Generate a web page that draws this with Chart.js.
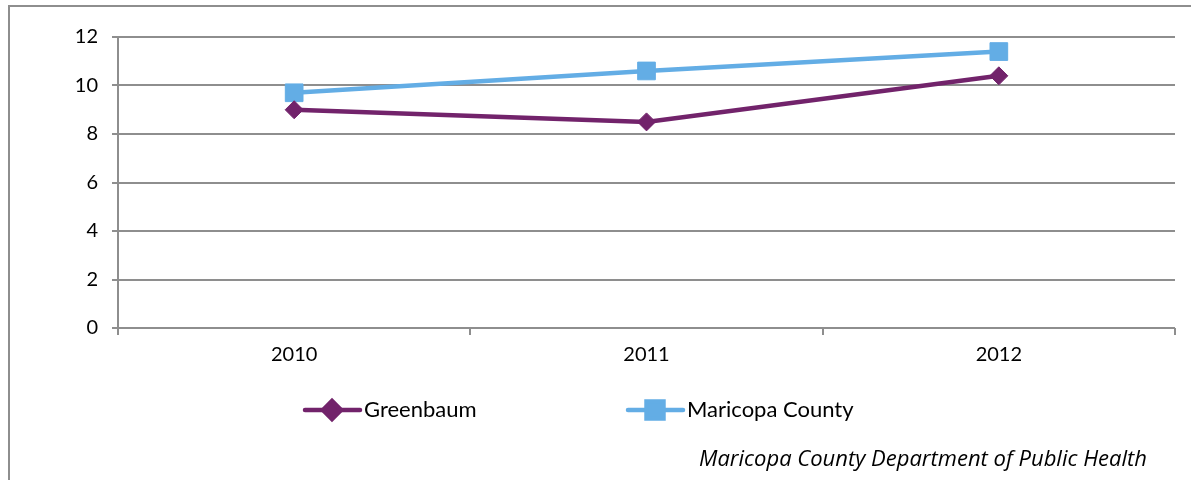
<!DOCTYPE html>
<html>
<head>
<meta charset="utf-8">
<script src="https://cdn.jsdelivr.net/npm/chart.js@4"></script>
<style>
  html, body { margin: 0; padding: 0; background: #fff; }
  #wrap { position: relative; width: 1191px; height: 480px; }
</style>
</head>
<body>
<div id="wrap"><canvas id="chart" width="1191" height="480"></canvas></div>
<script>
const years = ["2010", "2011", "2012"];
const greenbaum = [9.0, 8.5, 10.4];
const maricopa = [9.7, 10.6, 11.4];
const yTicks = [0, 2, 4, 6, 8, 10, 12];
const sourceNote = "Maricopa County Department of Public Health";

const purple = "#72236b";
const blue = "#63ade5";
const gridGrey = "#8e8e8e";
const font = "Lato, 'Open Sans', sans-serif";

// frame, legend and source line, drawn like the original sheet
const decorations = {
  id: "decorations",
  beforeDraw(chart) {
    const ctx = chart.ctx;
    ctx.save();
    ctx.strokeStyle = gridGrey;
    ctx.lineWidth = 2;
    ctx.beginPath();
    ctx.moveTo(9, 480);
    ctx.lineTo(9, 6);
    ctx.lineTo(1191, 6);
    ctx.stroke();
    ctx.restore();
  },
  afterDraw(chart) {
    const ctx = chart.ctx;
    const items = [{ x: 305 }, { x: 628 }];
    ctx.save();
    chart.data.datasets.forEach(function (ds, i) {
      const x = items[i].x;
      const y = 410;
      ctx.strokeStyle = ds.borderColor;
      ctx.lineWidth = 4.5;
      ctx.lineCap = "round";
      ctx.beginPath();
      ctx.moveTo(x, y);
      ctx.lineTo(x + 55, y);
      ctx.stroke();
      ctx.fillStyle = ds.pointBackgroundColor;
      ctx.strokeStyle = ds.pointBorderColor;
      Chart.helpers.drawPoint(ctx, {
        pointStyle: ds.pointStyle,
        radius: ds.pointStyle === "rect" ? 12 : 9,
        rotation: 0,
        borderWidth: 1,
      }, x + 27, y);
      ctx.fillStyle = "#000";
      ctx.font = "22px " + font;
      ctx.textBaseline = "middle";
      ctx.fillText(ds.label, x + 59, y);
    });
    ctx.font = "italic 22px 'Open Sans', sans-serif";
    ctx.fillStyle = "#000";
    ctx.textAlign = "right";
    ctx.textBaseline = "middle";
    ctx.fillText(sourceNote, 1147, 460);
    ctx.restore();
  },
};

new Chart(document.getElementById("chart"), {
  type: "line",
  data: {
    labels: years,
    datasets: [
      {
        label: "Greenbaum",
        data: greenbaum,
        borderColor: purple,
        borderWidth: 4.5,
        pointStyle: "rectRot",
        pointRadius: 9,
        pointBackgroundColor: purple,
        pointBorderColor: purple,
        pointBorderWidth: 1,
        tension: 0,
      },
      {
        label: "Maricopa County",
        data: maricopa,
        borderColor: blue,
        borderWidth: 4.5,
        pointStyle: "rect",
        pointRadius: 12.5,
        pointBackgroundColor: blue,
        pointBorderColor: blue,
        pointBorderWidth: 1,
        tension: 0,
      },
    ],
  },
  options: {
    responsive: false,
    animation: false,
    layout: { padding: { left: 0, top: 37, right: 16, bottom: 0 } },
    plugins: {
      legend: { display: false },
      tooltip: { enabled: false },
    },
    scales: {
      x: {
        offset: true,
        grid: {
          offset: true,
          drawOnChartArea: false,
          color: gridGrey,
          lineWidth: 2,
          tickLength: 7,
        },
        border: { display: false },
        ticks: { color: "#000", font: { family: font, size: 20 }, padding: 8 },
        afterFit(scale) { scale.height = 152; },
      },
      y: {
        min: 0,
        max: 12,
        afterBuildTicks(scale) { scale.ticks = yTicks.map(v => ({ value: v })); },
        grid: { color: gridGrey, lineWidth: 2, tickLength: 6 },
        border: { display: true, color: gridGrey, width: 2 },
        ticks: { color: "#000", font: { family: font, size: 20 }, padding: 14 },
        afterFit(scale) { scale.width = 118; },
      },
    },
  },
  plugins: [decorations],
});
</script>
</body>
</html>
